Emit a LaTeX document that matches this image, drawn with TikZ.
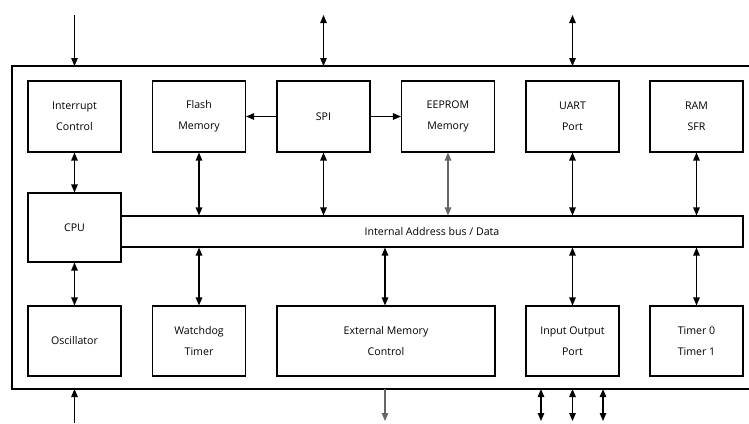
\documentclass[tikz,border=0pt]{standalone}
\usepackage{fontspec}
\setmainfont{Open Sans}
\usetikzlibrary{arrows.meta}
\begin{document}
\begin{tikzpicture}[x=1pt,y=-1pt,
  lbl/.style={font=\fontsize{10.6}{21}\selectfont},
  blk/.style={lbl, draw, line width=1.1pt, minimum width=93pt, minimum height=71pt,
    align=center, inner sep=0pt},
  link/.style={line width=1.2pt, -{Triangle[length=8pt,width=6.5pt]}},
  dbl/.style={line width=1.2pt, {Triangle[length=8pt,width=6.5pt]}-{Triangle[length=8pt,width=6.5pt]}},
  soft/.style={draw=black!60},
]
\useasboundingbox (0,0) rectangle (749,423);

% chip outline (open to the right)
\draw[line width=1.4pt] (749,66) -| (12,389) -- (749,389);

% top row of blocks
\node[blk] (intr)   at (74.5,116.5) {Interrupt\\Control};
\node[blk] (flash)  at (199,116.5)  {Flash\\Memory};
\node[blk] (spi)    at (323.5,116.5) {SPI};
\node[blk] (eeprom) at (448,116.5)  {EEPROM\\Memory};
\node[blk] (uart)   at (572.5,116.5) {UART\\Port};
\node[blk] (ram)    at (696.5,116.5) {RAM\\SFR};

% CPU and internal bus
\node[blk, minimum height=69pt] (cpu) at (74.5,227.5) {CPU};
\node[lbl, draw, line width=1.1pt, minimum width=622pt, minimum height=31pt, inner sep=0pt]
  (bus) at (432,231.5) {Internal Address bus / Data};

% bottom row of blocks
\node[blk, minimum height=70pt] (osc) at (74.5,341) {Oscillator};
\node[blk, minimum height=70pt] (wdt) at (199,341) {Watchdog\\Timer};
\node[blk, minimum height=70pt, minimum width=218pt] (ext) at (386,341) {External Memory\\Control};
\node[blk, minimum height=70pt] (io)  at (572.5,341) {Input Output\\Port};
\node[blk, minimum height=70pt] (tmr) at (696.5,341) {Timer 0\\Timer 1};

% pins on the chip outline
\coordinate (irqIn)   at (74.5,15);   \coordinate (irqPin)  at (74.5,66);
\coordinate (spiOut)  at (323.5,15);  \coordinate (spiPin)  at (323.5,66);
\coordinate (uartOut) at (572.5,15);  \coordinate (uartPin) at (572.5,66);
\coordinate (oscIn)   at (74.5,423);  \coordinate (oscPin)  at (74.5,389);
\coordinate (extPin)  at (385,389);   \coordinate (extOut)  at (385,421);
\coordinate (ioPinA)  at (541,389);   \coordinate (ioOutA)  at (541,421);
\coordinate (ioPinB)  at (572.5,389); \coordinate (ioOutB)  at (572.5,421);
\coordinate (ioPinC)  at (603,389);   \coordinate (ioOutC)  at (603,421);

% external connections
\draw[link] (irqIn) -- (irqPin);
\draw[dbl] (spiOut) -- (spiPin);
\draw[dbl] (uartOut) -- (uartPin);
\draw[link] (oscIn) -- (oscPin);
\draw[link, soft] (extPin) -- (extOut);
\draw[dbl] (ioPinA) -- (ioOutA);
\draw[dbl] (ioPinB) -- (ioOutB);
\draw[dbl] (ioPinC) -- (ioOutC);

% internal connections
\draw[dbl] (intr) -- (cpu);
\draw[dbl] (cpu) -- (osc);
\draw[link] (spi) -- (flash);
\draw[link] (spi) -- (eeprom);
\draw[dbl] (flash.south) -- (flash.south |- bus.north);
\draw[dbl] (spi.south) -- (spi.south |- bus.north);
\draw[dbl, soft] (eeprom.south) -- (eeprom.south |- bus.north);
\draw[dbl] (uart.south) -- (uart.south |- bus.north);
\draw[dbl] (ram.south) -- (ram.south |- bus.north);
\draw[dbl] (wdt.north) -- (wdt.north |- bus.south);
\draw[dbl] (extPin |- ext.north) -- (extPin |- bus.south);
\draw[dbl] (io.north) -- (io.north |- bus.south);
\draw[dbl] (tmr.north) -- (tmr.north |- bus.south);
\end{tikzpicture}
\end{document}
